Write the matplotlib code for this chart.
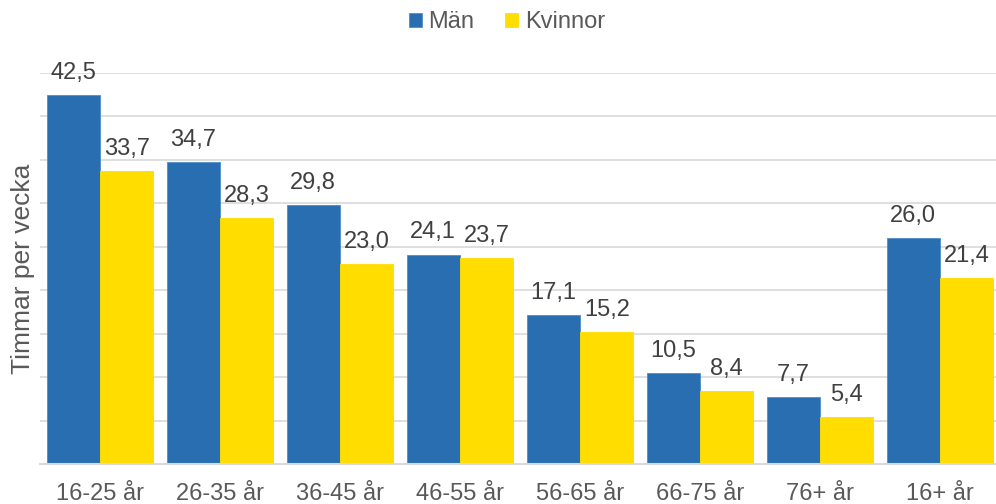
import numpy as np
import matplotlib.pyplot as plt

plt.rcParams['font.family'] = ['Liberation Sans', 'DejaVu Sans']

# Data
kategorier = ['16-25 år', '26-35 år', '36-45 år', '46-55 år', '56-65 år', '66-75 år', '76+ år', '16+ år']
man = [42.5, 34.7, 29.8, 24.1, 17.1, 10.5, 7.7, 26.0]
kvinnor = [33.7, 28.3, 23.0, 23.7, 15.2, 8.4, 5.4, 21.4]

bla = '#2A6EB2'
gul = '#FFDD00'
text_farg = '#404040'
axel_farg = '#595959'

fig = plt.figure(figsize=(9.96, 5.04), dpi=100)
ax = fig.add_axes([40 / 996, 40 / 504, 960 / 996, 391 / 504])

x = np.arange(len(kategorier))
w = 0.445
b1 = ax.bar(x - w / 2, man, w, color=bla, edgecolor='#4F8BC9', linewidth=0.6, label='Män', zorder=3)
b2 = ax.bar(x + w / 2, kvinnor, w, color=gul, edgecolor=gul, linewidth=0.6, label='Kvinnor', zorder=3)

# Värdeetiketter
for bars in (b1, b2):
    for rect in bars:
        v = rect.get_height()
        ax.annotate(f'{v:.1f}'.replace('.', ','),
                    (rect.get_x() + rect.get_width() / 2, v),
                    xytext=(0, 8), textcoords='offset points',
                    ha='center', va='bottom', fontsize=17, color=text_farg)

ax.set_xlim(-0.5, len(kategorier) - 0.5)
ax.set_ylim(0, 45)
ax.set_yticks(np.arange(0, 46, 5))
ax.set_yticklabels([])
ax.tick_params(axis='y', length=0)
ax.tick_params(axis='x', length=0, pad=14, labelsize=17, labelcolor=axel_farg)
ax.set_xticks(x)
ax.set_xticklabels(kategorier)
ax.grid(axis='y', color='#D9D9D9', linewidth=1.2, zorder=0)

for s in ['top', 'right', 'left']:
    ax.spines[s].set_visible(False)
ax.spines['bottom'].set_color('#D9D9D9')
ax.spines['bottom'].set_linewidth(1.5)
ax.spines['bottom'].set_zorder(4)

ax.set_ylabel('Timmar per vecka', fontsize=19, color=axel_farg)
ax.yaxis.set_label_coords(-5 / 960, 0.5)

fig.legend(loc='center', bbox_to_anchor=(507 / 996, 1 - 22 / 504), ncol=2, frameon=False,
           fontsize=17, handlelength=0.55, handleheight=0.55, handletextpad=0.3,
           columnspacing=1.3, labelcolor=axel_farg)

fig.savefig('out.png', dpi=100)
